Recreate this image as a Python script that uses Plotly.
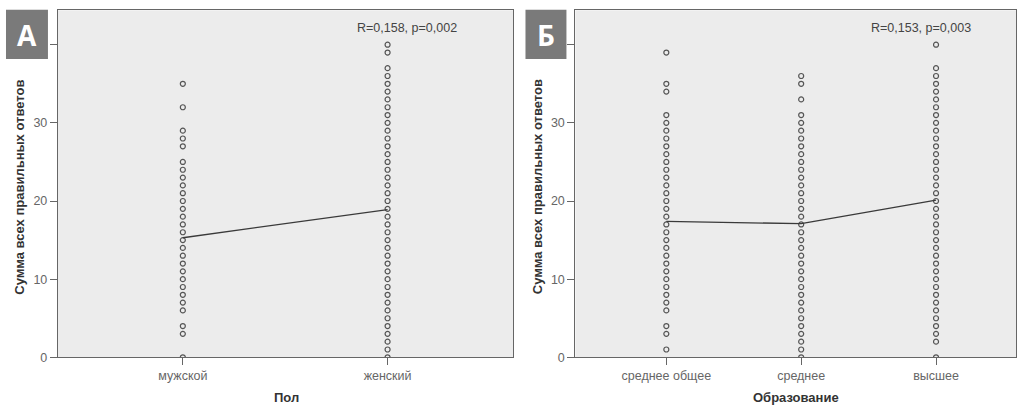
import plotly.graph_objects as go

W, H = 1017, 411

# ---- data ----
sex_categories = ["мужской", "женский"]
sex_male_values = [0, 3, 4, 6, 7, 8, 9, 10, 11, 12, 13, 14, 15, 16, 17, 18, 19, 20, 21,
                   22, 23, 24, 25, 27, 28, 29, 32, 35]
sex_female_values = [0, 1, 2, 3, 4, 5, 6, 7, 8, 9, 10, 11, 12, 13, 14, 15, 16, 17, 18, 19,
                     20, 21, 22, 23, 24, 25, 26, 27, 28, 29, 30, 31, 32, 33, 34, 35, 36, 37,
                     39, 40]
sex_means = [15.3, 18.9]

edu_categories = ["среднее общее", "среднее", "высшее"]
edu_general_values = [1, 3, 4, 6, 7, 8, 9, 10, 11, 12, 13, 14, 15, 16, 17, 18, 19, 20, 21,
                      22, 23, 24, 25, 26, 27, 28, 29, 30, 31, 34, 35, 39]
edu_secondary_values = [0, 1, 2, 3, 4, 5, 6, 7, 8, 9, 10, 11, 12, 13, 14, 15, 16, 17, 18,
                        19, 20, 21, 22, 23, 24, 25, 26, 27, 28, 29, 30, 31, 33, 35, 36]
edu_higher_values = [0, 2, 3, 4, 5, 6, 7, 8, 9, 10, 11, 12, 13, 14, 15, 16, 17, 18, 19, 20,
                     21, 22, 23, 24, 25, 26, 27, 28, 29, 30, 31, 32, 33, 34, 35, 36, 37, 40]
edu_means = [17.4, 17.1, 20.1]

y_tick_vals = [0, 10, 20, 30, 40]
y_tick_text = ["0", "10", "20", "30", ""]
y_title = "Сумма всех правильных ответов"
x_title_a = "Пол"
x_title_b = "Образование"
stat_a = "R=0,158, p=0,002"
stat_b = "R=0,153, p=0,003"

FONT = "Liberation Sans, Arial, sans-serif"
MARK = dict(symbol="circle-open", size=5, color="#555555", line=dict(width=1.2, color="#555555"))


def px_x(p):
    return p / W


def px_y(p):
    return 1 - p / H


fig = go.Figure()


def add_group(cat_list, values_lists, means, xa, ya):
    for cat, vals in zip(cat_list, values_lists):
        fig.add_trace(go.Scatter(x=[cat] * len(vals), y=vals, mode="markers",
                                 marker=MARK, xaxis=xa, yaxis=ya, showlegend=False,
                                 hoverinfo="y"))
    fig.add_trace(go.Scatter(x=cat_list, y=means, mode="lines",
                             line=dict(color="#3a3a3a", width=1.3), xaxis=xa, yaxis=ya,
                             showlegend=False))


add_group(sex_categories, [sex_male_values, sex_female_values], sex_means, "x", "y")
add_group(edu_categories, [edu_general_values, edu_secondary_values, edu_higher_values],
          edu_means, "x2", "y2")

top_px, bot_px = 10.5, 363.5
ydom = [px_y(bot_px), px_y(top_px)]
yrange = [0, (bot_px - top_px) / 7.95]

axis_common = dict(showline=True, linecolor="#666666", linewidth=1.3, mirror=True,
                   showgrid=False, zeroline=False, ticks="outside", tickcolor="#666666",
                   ticklen=7, tickwidth=1.2,
                   tickfont=dict(family=FONT, size=12.5, color="#666666"))

fig.update_layout(
    width=W, height=H,
    margin=dict(l=0, r=0, t=0, b=0),
    paper_bgcolor="white",
    plot_bgcolor="#ECECEC",
    xaxis=dict(domain=[px_x(58), px_x(514)], anchor="y", type="category",
               categoryorder="array", categoryarray=sex_categories,
               range=[-0.61, 1.615], **axis_common),
    yaxis=dict(domain=ydom, anchor="x", range=yrange, tickvals=y_tick_vals,
               ticktext=y_tick_text, **axis_common),
    xaxis2=dict(domain=[px_x(576), 1.0], anchor="y2", type="category",
                categoryorder="array", categoryarray=edu_categories,
                range=[-0.674, 2.593], **axis_common),
    yaxis2=dict(domain=ydom, anchor="x2", range=yrange, tickvals=y_tick_vals,
                ticktext=y_tick_text, **axis_common),
)

ann = []
bold = dict(family=FONT, size=13, color="#333333", weight="bold")
ann.append(dict(text=y_title, x=px_x(20), y=px_y(190), textangle=-90, font=bold))
ann.append(dict(text=y_title, x=px_x(538), y=px_y(190), textangle=-90, font=bold))
ann.append(dict(text=x_title_a, x=px_x(287), y=px_y(404), font=bold))
ann.append(dict(text=x_title_b, x=px_x(797), y=px_y(404), font=bold))
stat_font = dict(family=FONT, size=12.5, color="#444444")
ann.append(dict(text=stat_a, x=px_x(407), y=px_y(28), font=stat_font))
ann.append(dict(text=stat_b, x=px_x(922), y=px_y(28), font=stat_font))

for letter, x0, x1 in [("А", 6, 48), ("Б", 526, 567)]:
    fig.add_shape(type="rect", xref="paper", yref="paper", x0=px_x(x0), x1=px_x(x1),
                  y0=px_y(60), y1=px_y(10), fillcolor="#7a7a7a", line=dict(width=0),
                  layer="above")
    ann.append(dict(text=letter, x=px_x((x0 + x1) / 2), y=px_y(36),
                    font=dict(family="Open Sans, Liberation Sans, sans-serif", size=28,
                              color="white", weight="bold")))

for a in ann:
    a.update(showarrow=False, xref="paper", yref="paper", xanchor="center", yanchor="middle")

fig.update_layout(annotations=ann)
fig.write_html("out.html", config={"displayModeBar": False},
               post_script="document.body.style.margin='0px';document.body.style.overflow='hidden';")
